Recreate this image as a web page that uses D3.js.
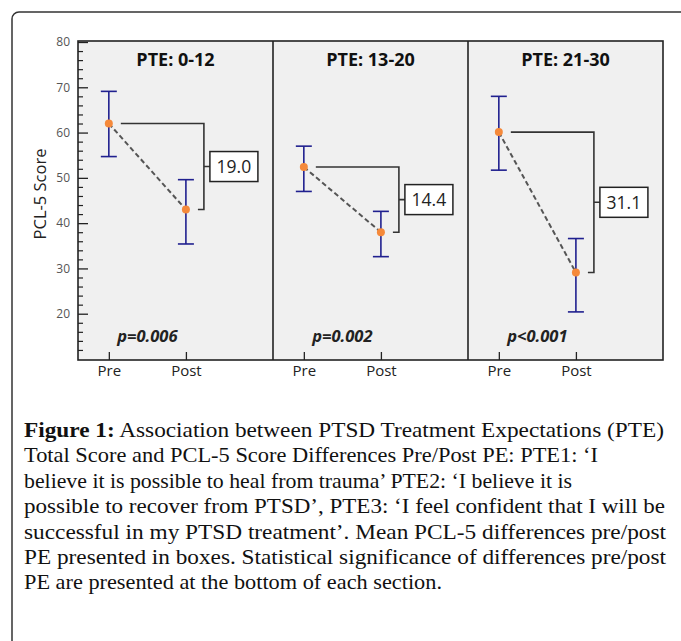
<!DOCTYPE html>
<html>
<head>
<meta charset="utf-8">
<script src="https://d3js.org/d3.v7.min.js"></script>
<style>
  body { margin: 0; background: #fff; }
  svg { display: block; }
</style>
</head>
<body>
<div id="chart"></div>
<script>
// chart values
var panels = ["PTE: 0-12", "PTE: 13-20", "PTE: 21-30"];
var timepoints = ["Pre", "Post"];
var means = [[62.0, 43.0], [52.4, 38.0], [60.1, 29.1]];
var upper = [[69.1, 49.6], [57.0, 42.6], [68.0, 36.6]];
var lower = [[54.7, 35.4], [47.0, 32.6], [51.7, 20.4]];
var diffs = ["19.0", "14.4", "31.1"];
var pValues = ["p=0.006", "p=0.002", "p<0.001"];
var yTicks = [20, 30, 40, 50, 60, 70, 80];
var yMinor = [12, 14, 16, 18, 22, 24, 26, 28, 32, 34, 36, 38, 42, 44, 46, 48, 52, 54, 56, 58, 62, 64, 66, 68, 72, 74, 76, 78];

// caption, broken as in the figure (line widths in px)
var captionLines = [
  "Total Score and PCL-5 Score Differences Pre/Post PE: PTE1: \u2018I",
  "believe it is possible to heal from trauma\u2019 PTE2: \u2018I believe it is",
  "possible to recover from PTSD\u2019, PTE3: \u2018I feel confident that I will be",
  "successful in my PTSD treatment\u2019. Mean PCL-5 differences pre/post",
  "PE presented in boxes. Statistical significance of differences pre/post",
  "PE are presented at the bottom of each section."
];
var captionWidths = [574, 548, 641, 642, 642, 418];

var svgWidth = 681, svgHeight = 641;
var plotLeft = 78, plotRight = 663, plotTop = 41, plotBottom = 360;

var svg = d3.select("#chart").append("svg")
  .attr("width", svgWidth)
  .attr("height", svgHeight);

// outer frame, only top and left show
svg.append("rect")
  .attr("x", 12).attr("y", 12)
  .attr("width", 720).attr("height", 700)
  .attr("rx", 7)
  .attr("fill", "none")
  .attr("stroke", "#333")
  .attr("stroke-width", 1.5);

// scales
var yScale = d3.scaleLinear().domain([10, 80]).range([359, 42]);
var panelScale = d3.scaleBand().domain(panels).range([plotLeft, plotRight]);
var xInner = d3.scaleLinear().domain([0.6, 3.13]).range([0, panelScale.bandwidth()]);

// background
svg.append("rect")
  .attr("x", plotLeft).attr("y", plotTop)
  .attr("width", plotRight - plotLeft).attr("height", plotBottom - plotTop)
  .attr("fill", "#f0f0f0");

// y axis
var yAxis = svg.append("g")
  .attr("transform", "translate(" + plotLeft + ",0)")
  .call(d3.axisLeft(yScale).tickValues(yTicks).tickSizeInner(-10).tickSizeOuter(0).tickPadding(8));
yAxis.select(".domain").remove();
yAxis.selectAll("line").attr("stroke", "#222").attr("stroke-width", 1.3);
yAxis.selectAll("text")
  .attr("font-family", "'Open Sans', sans-serif")
  .attr("font-size", 12)
  .attr("fill", "#555");

var yMinorAxis = svg.append("g")
  .attr("transform", "translate(" + plotLeft + ",0)")
  .call(d3.axisLeft(yScale).tickValues(yMinor).tickSizeInner(-5).tickSizeOuter(0).tickFormat(""));
yMinorAxis.select(".domain").remove();
yMinorAxis.selectAll("line").attr("stroke", "#222").attr("stroke-width", 1.2);

svg.append("text")
  .attr("transform", "translate(42,194) rotate(-90)")
  .attr("text-anchor", "middle")
  .attr("dominant-baseline", "middle")
  .attr("font-family", "'Open Sans', sans-serif")
  .attr("font-size", 16.5)
  .attr("fill", "#222")
  .text("PCL-5 Score");

// panels
panels.forEach(function(name, i) {
  var x0 = panelScale(name);
  var g = svg.append("g").attr("transform", "translate(" + x0 + ",0)");

  // x axis with inward ticks
  var xAxis = g.append("g")
    .attr("transform", "translate(0," + plotBottom + ")")
    .call(d3.axisBottom(xInner).tickValues([1, 2])
      .tickFormat(function(d) { return timepoints[d - 1]; })
      .tickSizeInner(-8).tickSizeOuter(0).tickPadding(5));
  xAxis.select(".domain").remove();
  xAxis.selectAll("line").attr("stroke", "#222").attr("stroke-width", 1.3);
  xAxis.selectAll("text")
    .attr("font-family", "'Open Sans', sans-serif")
    .attr("font-size", 15)
    .attr("fill", "#222");

  g.append("text")
    .attr("x", panelScale.bandwidth() / 2)
    .attr("y", 66)
    .attr("text-anchor", "middle")
    .attr("font-family", "'Open Sans', sans-serif")
    .attr("font-weight", "bold")
    .attr("font-size", 18)
    .attr("fill", "#111")
    .text(name);

  var preX = xInner(1), postX = xInner(2);
  var preY = yScale(means[i][0]), postY = yScale(means[i][1]);

  // dashed connector
  g.append("line")
    .attr("x1", preX).attr("y1", preY)
    .attr("x2", postX).attr("y2", postY)
    .attr("stroke", "#555")
    .attr("stroke-width", 2)
    .attr("stroke-dasharray", "5,3");

  // error bars
  timepoints.forEach(function(t, j) {
    var cx = xInner(j + 1);
    var eb = g.append("g").attr("stroke", "#20208f").attr("stroke-width", 1.6);
    eb.append("line").attr("x1", cx).attr("x2", cx)
      .attr("y1", yScale(upper[i][j])).attr("y2", yScale(lower[i][j]));
    eb.append("line").attr("x1", cx - 8).attr("x2", cx + 8)
      .attr("y1", yScale(upper[i][j])).attr("y2", yScale(upper[i][j]));
    eb.append("line").attr("x1", cx - 8).attr("x2", cx + 8)
      .attr("y1", yScale(lower[i][j])).attr("y2", yScale(lower[i][j]));
  });

  // points
  g.selectAll("circle.pt")
    .data(means[i])
    .enter().append("circle")
    .attr("class", "pt")
    .attr("cx", function(d, j) { return xInner(j + 1); })
    .attr("cy", function(d) { return yScale(d); })
    .attr("r", 4)
    .attr("fill", "#f5893a");

  // bracket and difference box
  var bx = postX + 18;
  var midY = (preY + postY) / 2;
  g.append("path")
    .attr("d", "M" + (preX + 12) + "," + preY + "H" + bx + "V" + postY + "H" + (bx - 6) +
      "M" + bx + "," + midY + "H" + (bx + 6))
    .attr("fill", "none")
    .attr("stroke", "#333")
    .attr("stroke-width", 1.6);
  g.append("rect")
    .attr("x", bx + 6).attr("y", midY - 15)
    .attr("width", 48).attr("height", 30)
    .attr("fill", "#fff")
    .attr("stroke", "#222")
    .attr("stroke-width", 1.5);
  g.append("text")
    .attr("x", bx + 30).attr("y", midY + 6.5)
    .attr("text-anchor", "middle")
    .attr("font-family", "'Open Sans', sans-serif")
    .attr("font-size", 17.5)
    .attr("fill", "#222")
    .text(diffs[i]);

  // p-value
  g.append("text")
    .attr("x", (preX + postX) / 2)
    .attr("y", 342)
    .attr("text-anchor", "middle")
    .attr("font-family", "'Open Sans', sans-serif")
    .attr("font-weight", "bold")
    .attr("font-style", "italic")
    .attr("font-size", 16.5)
    .attr("fill", "#222")
    .text(pValues[i]);
});

// panel frame and dividers
svg.append("rect")
  .attr("x", plotLeft).attr("y", plotTop)
  .attr("width", plotRight - plotLeft).attr("height", plotBottom - plotTop)
  .attr("fill", "none")
  .attr("stroke", "#222")
  .attr("stroke-width", 1.6);
svg.selectAll("line.divider")
  .data(panels.slice(1))
  .enter().append("line")
  .attr("class", "divider")
  .attr("x1", function(d) { return panelScale(d); })
  .attr("x2", function(d) { return panelScale(d); })
  .attr("y1", plotTop).attr("y2", plotBottom)
  .attr("stroke", "#222")
  .attr("stroke-width", 1.6);

// caption
var cap = svg.append("g")
  .attr("font-family", "'Liberation Serif', serif")
  .attr("font-size", 21)
  .attr("fill", "#111");
var first = cap.append("text").attr("x", 24).attr("y", 437)
  .attr("textLength", 640).attr("lengthAdjust", "spacingAndGlyphs");
first.append("tspan").attr("font-weight", "bold").text("Figure 1:");
first.append("tspan").text(" Association between PTSD Treatment Expectations (PTE)");
cap.selectAll("text.line")
  .data(captionLines)
  .enter().append("text")
  .attr("class", "line")
  .attr("x", 24)
  .attr("y", function(d, i) { return 437 + (i + 1) * 25.4; })
  .attr("textLength", function(d, i) { return captionWidths[i]; })
  .attr("lengthAdjust", "spacingAndGlyphs")
  .text(function(d) { return d; });
</script>
</body>
</html>
